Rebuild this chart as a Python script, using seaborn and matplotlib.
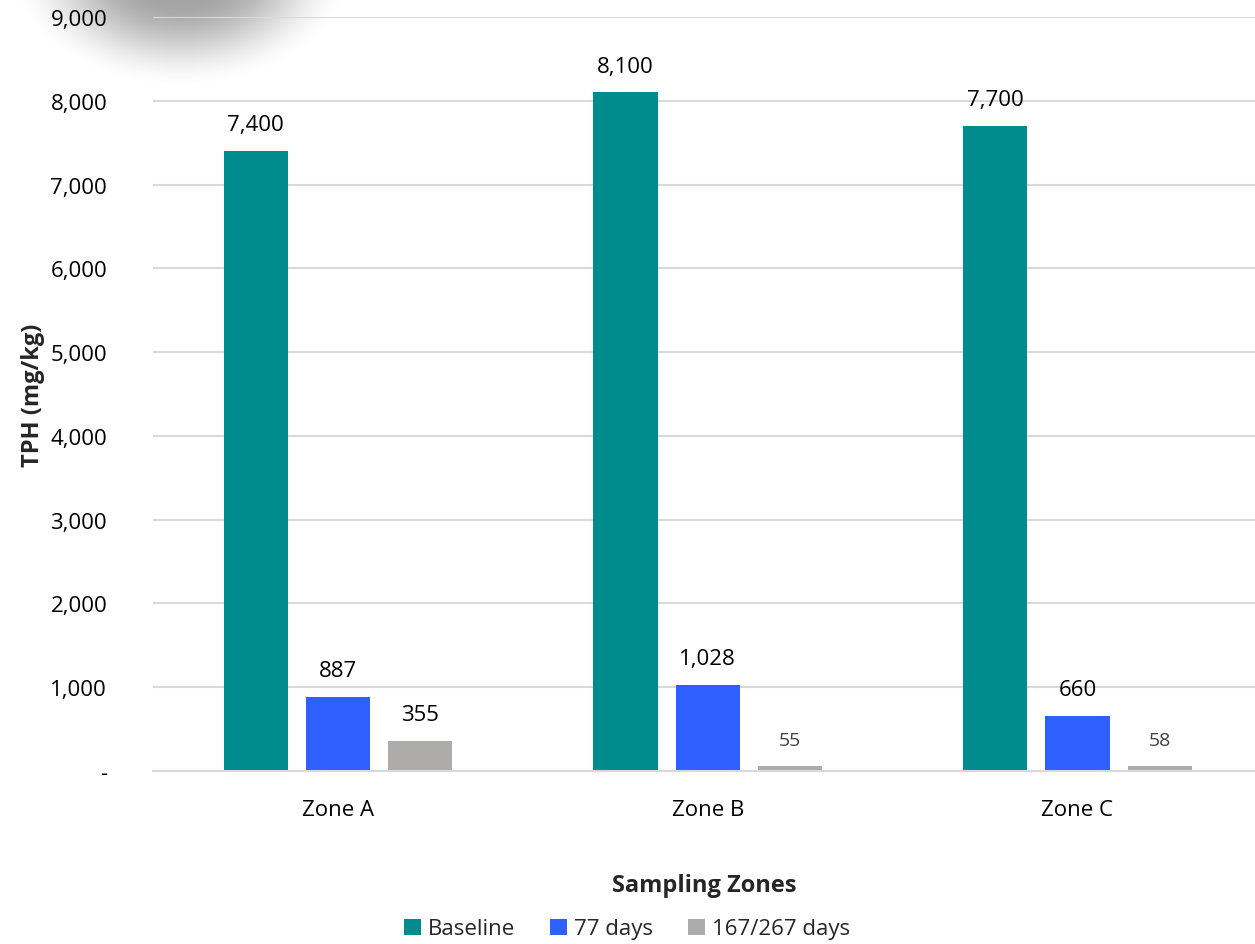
import numpy as np
import pandas as pd
import matplotlib
matplotlib.use("Agg")
import matplotlib.pyplot as plt
from matplotlib.ticker import FuncFormatter, MultipleLocator
from matplotlib.patches import Patch
import seaborn as sns

zones = ["Zone A", "Zone B", "Zone C"]
periods = ["Baseline", "77 days", "167/267 days"]
baseline = [7400, 8100, 7700]
days_77 = [887, 1028, 660]
days_167_267 = [355, 55, 58]

colors = {"Baseline": "#008B8F", "77 days": "#2E5FFF", "167/267 days": "#AEABAB"}

df = pd.DataFrame({
    "zone": zones * 3,
    "period": [p for p in periods for _ in zones],
    "tph": baseline + days_77 + days_167_267,
})

sns.set_style("white")
plt.rcParams["font.family"] = ["Open Sans", "DejaVu Sans"]

fig = plt.figure(figsize=(12.55, 9.45), dpi=100)

# soft shadow in the top-left corner
bg = fig.add_axes([0, 0, 1, 1], zorder=-5)
W, H = 1255, 945
xx, yy = np.meshgrid(np.arange(W), np.arange(H))
d = np.sqrt(((xx - 180) / 175.0) ** 2 + ((yy + 30) / 120.0) ** 2)
t = np.clip((1.0 - d) / 0.75, 0, 1)
alpha = 0.36 * t * t * (3 - 2 * t)
img = np.zeros((H, W, 4))
img[..., 3] = alpha
bg.imshow(img, aspect="auto", extent=(0, W, H, 0))
bg.set_xlim(0, W)
bg.set_ylim(H, 0)
bg.axis("off")

ax = fig.add_axes([153 / W, 1 - 772 / H, 1 - 153 / W, (772 - 18) / H])
ax.patch.set_alpha(0)

sns.barplot(data=df, x="zone", y="tph", hue="period", order=zones,
            hue_order=periods, palette=colors, width=0.667, gap=0.22,
            saturation=1, ax=ax, legend=False, edgecolor="none")

ax.set_ylim(0, 9000)
ax.set_xlim(-0.5, 2.48)
ax.yaxis.set_major_locator(MultipleLocator(1000))
ax.yaxis.set_major_formatter(FuncFormatter(lambda v, p: "-" if v == 0 else f"{int(v):,}"))
ax.grid(axis="y", color="#D9D9D9", linewidth=1.5)
ax.set_axisbelow(True)
for s in ["top", "right", "left"]:
    ax.spines[s].set_visible(False)
ax.spines["bottom"].set_color("#D9D9D9")
ax.spines["bottom"].set_linewidth(1.5)
ax.tick_params(axis="both", length=0, labelsize=16, colors="black")
ax.tick_params(axis="y", pad=33)
ax.tick_params(axis="x", pad=20)

ax.set_xlabel("Sampling Zones", fontsize=17, fontweight="bold", labelpad=38)
ax.set_ylabel("TPH (mg/kg)", fontsize=17, fontweight="bold", labelpad=4)

for container, period in zip(ax.containers, periods):
    for bar in container:
        v = bar.get_height()
        small = v < 100
        ax.annotate(f"{int(round(v)):,}", (bar.get_x() + bar.get_width() / 2, v),
                    xytext=(0, 19), textcoords="offset points", ha="center",
                    va="center", fontsize=14 if small else 16,
                    color="#404040" if small else "black")

handles = [Patch(facecolor=colors[p], edgecolor="none") for p in periods]
fig.legend(handles, periods, loc="center", bbox_to_anchor=(627 / W, 1 - 930 / H),
           ncol=3, frameon=False, fontsize=16, handlelength=0.75, handleheight=0.75,
           handletextpad=0.3, columnspacing=1.6)

fig.savefig("out.png", dpi=100)
